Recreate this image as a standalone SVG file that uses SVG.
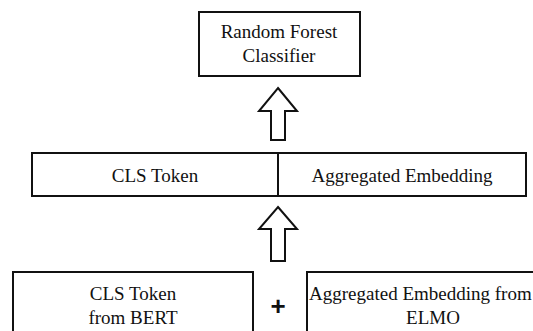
<svg xmlns="http://www.w3.org/2000/svg" width="533" height="331" viewBox="0 0 533 331">
<style>
.box{fill:#fff;stroke:#111;stroke-width:2}
.arr{fill:#fff;stroke:#111;stroke-width:2;stroke-linejoin:miter}
.t{font-family:'Liberation Serif','Times New Roman',Times,'DejaVu Serif',serif;font-size:19px;fill:#111}
.c{text-anchor:middle}
.plus{font-family:'Liberation Sans',Arial,sans-serif;font-weight:bold;font-size:26px;fill:#111;text-anchor:middle}
</style>
<rect width="533" height="331" fill="#fff"/>
<g id="rf">
<rect class="box" x="199" y="12" width="161" height="64"/>
<text class="t c" x="279" y="38">Random Forest</text>
<text class="t c" x="279" y="62">Classifier</text>
</g>
<g id="combined">
<rect class="box" x="32" y="153" width="494" height="43"/>
<line x1="278" y1="153" x2="278" y2="196" stroke="#111" stroke-width="2"/>
<text class="t c" x="155" y="182">CLS Token</text>
<text class="t c" x="402" y="182">Aggregated Embedding</text>
</g>
<g id="bert">
<rect class="box" x="13" y="272" width="240" height="70"/>
<text class="t c" x="133" y="300">CLS Token</text>
<text class="t c" x="133" y="324">from BERT</text>
</g>
<g id="elmo">
<rect class="box" x="307" y="272" width="250" height="70"/>
<text class="t" x="309" y="300">Aggregated Embedding from</text>
<text class="t c" x="433" y="324">ELMO</text>
</g>
<g id="plus">
<text class="plus" x="278" y="315">+</text>
</g>
<g id="connectors">
<path class="arr" d="M278,88 L297,111 L285,111 L285,140 L271,140 L271,111 L259,111 Z"/>
<path class="arr" d="M278,207 L297,229 L285,229 L285,261 L271,261 L271,229 L259,229 Z"/>
</g>
</svg>
